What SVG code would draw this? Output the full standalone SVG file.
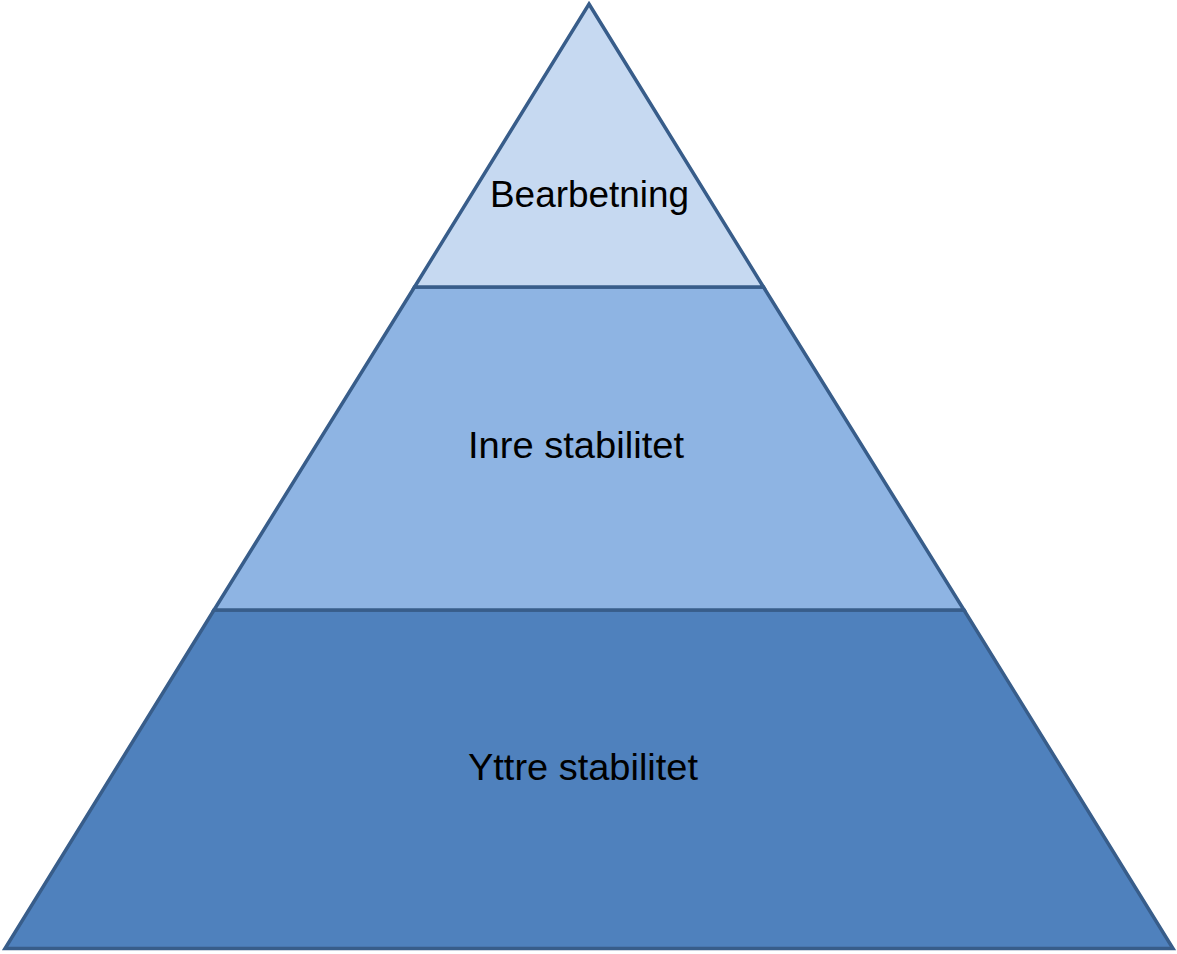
<svg xmlns="http://www.w3.org/2000/svg" width="1177" height="954" viewBox="0 0 1177 954">
<style>
.seg{stroke:#385D8A;stroke-width:3.5;stroke-linejoin:miter}
.lbl{font-family:"Liberation Sans",Arial,sans-serif;font-size:36px;fill:#000}
</style>
<rect width="1177" height="954" fill="#fff"/>
<g id="bottom">
<polygon class="seg" fill="#4F81BD" points="214,610 964,610 1173,948.5 5,948.5"/>
<text class="lbl" x="468" y="780" textLength="230" lengthAdjust="spacingAndGlyphs">Yttre stabilitet</text>
</g>
<g id="middle">
<polygon class="seg" fill="#8EB4E3" points="414.5,287 763.5,287 964,610 214,610"/>
<text class="lbl" x="468" y="458" textLength="216" lengthAdjust="spacingAndGlyphs">Inre stabilitet</text>
</g>
<g id="top">
<polygon class="seg" fill="#C6D9F1" points="589,4 763.5,287 414.5,287"/>
<text class="lbl" x="490" y="207" textLength="199" lengthAdjust="spacingAndGlyphs">Bearbetning</text>
</g>
<g id="connectors"></g>
</svg>
